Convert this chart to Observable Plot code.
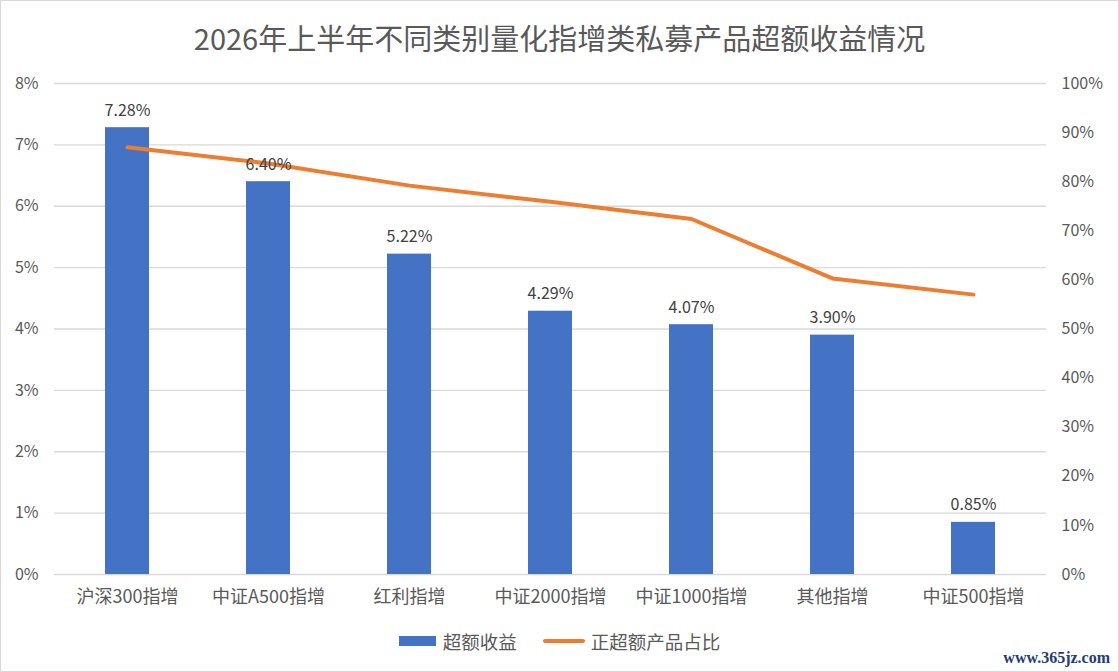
<!DOCTYPE html>
<html><head><meta charset="utf-8">
<script src="https://cdn.jsdelivr.net/npm/d3@7"></script>
<script src="https://cdn.jsdelivr.net/npm/@observablehq/plot@0.6"></script>
<style>
body{margin:0;background:#fff;font-family:"Noto Sans CJK SC","Noto Sans",sans-serif;}
#wrap{position:relative;width:1117px;height:670px;border:1px solid #d9d9d9;overflow:hidden;background:#fff}
#title{position:absolute;top:17px;left:0;width:100%;text-align:center;font-size:29px;color:#595959;line-height:38px}
#chart{position:absolute;top:60px;left:0}
#legend{position:absolute;top:626px;left:0;width:100%;display:flex;justify-content:center;align-items:center;font-size:18.5px;color:#595959;line-height:28px}
.item{display:flex;align-items:center;margin:0 13px}
.sw-bar{width:37px;height:10px;background:#4472C4;margin-right:7px}
.sw-line{width:42px;height:4px;border-radius:2px;background:#ED7D31;margin-right:6px}
#wm{position:absolute;right:8px;bottom:4px;font-family:"Liberation Serif",serif;font-weight:bold;font-size:16px;color:#1f3d73}
</style></head>
<body>
<div id="wrap">
  <div id="title">2026年上半年不同类别量化指增类私募产品超额收益情况</div>
  <div id="chart"></div>
  <div id="legend">
    <div class="item"><div class="sw-bar"></div><span>超额收益</span></div>
    <div class="item"><div class="sw-line"></div><span>正超额产品占比</span></div>
  </div>
  <div id="wm">www.365jz.com</div>
</div>
<script>
const categories = ["沪深300指增","中证A500指增","红利指增","中证2000指增","中证1000指增","其他指增","中证500指增"];
const excessReturn = [0.0728,0.0640,0.0522,0.0429,0.0407,0.0390,0.0085];
const positiveShare = [0.870,0.837,0.792,0.759,0.724,0.603,0.570];
const leftTicks = [0,0.01,0.02,0.03,0.04,0.05,0.06,0.07,0.08];
const rightTicks = [0,0.1,0.2,0.3,0.4,0.5,0.6,0.7,0.8,0.9,1.0];

const leftMax = 0.08, rightMax = 1.0;
const k = leftMax / rightMax;
const data = categories.map((c,i)=>({cat:c, excess:excessReturn[i], share:positiveShare[i]}));

const chart = Plot.plot({
  width:1117, height:553,
  marginTop:22, marginBottom:40, marginLeft:53, marginRight:72,
  style:{fontFamily:'"Noto Sans CJK SC","Noto Sans",sans-serif', color:"#595959", background:"transparent"},
  x:{domain:categories, paddingInner:0.69, paddingOuter:0.345, axis:null},
  y:{domain:[0,leftMax], axis:null},
  marks:[
    Plot.gridY(leftTicks,{stroke:"#d9d9d9", strokeOpacity:1, strokeWidth:1.3}),
    Plot.barY(data,{x:"cat", y:"excess", fill:"#4472C4"}),
    Plot.line(data,{x:"cat", y:d=>d.share*k, stroke:"#ED7D31", strokeWidth:4, strokeLinecap:"round", strokeLinejoin:"round"}),
    Plot.text(data,{x:"cat", y:"excess", text:d=>(d.excess*100).toFixed(2)+"%", lineAnchor:"bottom", dy:-12, fontSize:16, fill:"#404040"}),
    Plot.axisY(leftTicks,{anchor:"left", label:null, tickSize:0, tickPadding:16, fontSize:16, tickFormat:d=>Math.round(d*100)+"%"}),
    Plot.axisY(rightTicks.map(v=>v*k),{anchor:"right", label:null, tickSize:0, tickPadding:15, fontSize:16, textAnchor:"start", tickFormat:d=>Math.round(d/k*100)+"%"}),
    Plot.axisX({anchor:"bottom", label:null, tickSize:0, tickPadding:16, fontSize:18})
  ]
});
document.getElementById("chart").appendChild(chart);
</script>
</body></html>
